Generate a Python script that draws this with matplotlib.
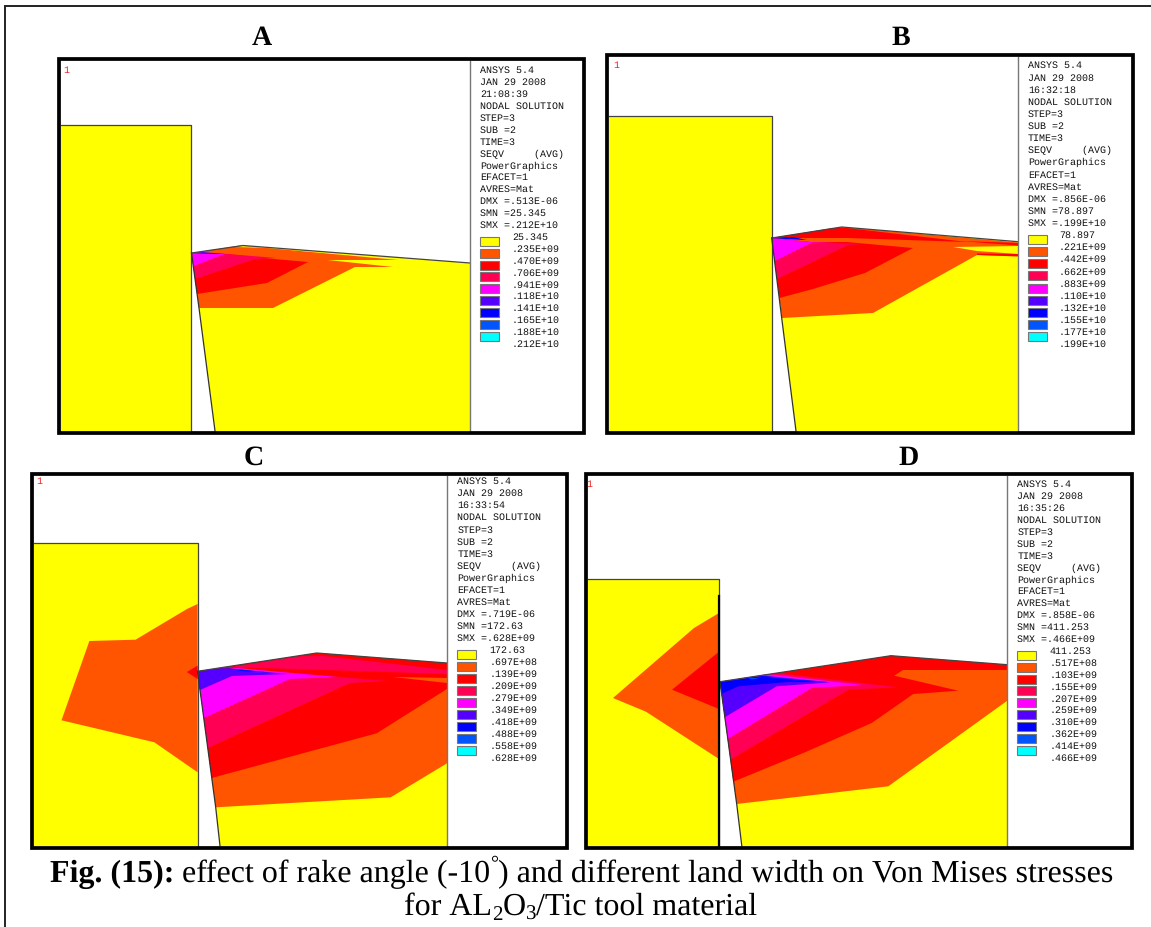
import matplotlib
matplotlib.use("Agg")
import matplotlib.pyplot as plt
from matplotlib.patches import Polygon, Rectangle

plt.rcParams["text.hinting"] = "no_hinting"
plt.rcParams["text.hinting_factor"] = 1

W, H = 1151, 928
YEL, ORG, RED, CRM, MAG, VIO, BLU, AZR, CYN = ("#FFFF00", "#FF5500", "#FF0000", "#FF0055",
    "#FF00FF", "#5500FF", "#0000FF", "#0055FF", "#00FFFF")
LEGEND_COLORS = [YEL, ORG, RED, CRM, MAG, VIO, BLU, AZR, CYN]

HEADER_FIXED = ["NODAL SOLUTION", "STEP=3", "SUB =2", "TIME=3", "SEQV     (AVG)",
                "PowerGraphics", "EFACET=1", "AVRES=Mat"]

# ---- panel A ----
A_TIME = "21:08:39"
A_STATS = ["DMX =.513E-06", "SMN =25.345", "SMX =.212E+10"]
A_LEVELS = ["25.345", ".235E+09", ".470E+09", ".706E+09", ".941E+09", ".118E+10", ".141E+10", ".165E+10", ".188E+10", ".212E+10"]
A_WORK = [(191.5, 254), (243, 246.5), (470, 264), (470, 432), (215, 432), (199, 309)]
A_REGIONS = [
    (ORG, [(191.5, 254), (240, 246.5), (398, 261), (328, 261), (393, 268), (355, 268), (273, 309), (199, 309)]),
    (YEL, [(243, 247), (270, 249), (235, 248)]),
    (RED, [(197, 295), (267, 284), (308, 263), (263, 259), (227, 255), (191.5, 254)]),
    (CRM, [(191.5, 254), (227, 255), (277, 259), (255, 260), (195, 280)]),
    (MAG, [(191.5, 254), (225, 255), (193.3, 267)]),
    (VIO, [(191.5, 254), (203, 253), (225, 255), (205, 255)]),
]

# ---- panel B ----
B_TIME = "16:32:18"
B_STATS = ["DMX =.856E-06", "SMN =78.897", "SMX =.199E+10"]
B_LEVELS = ["78.897", ".221E+09", ".442E+09", ".662E+09", ".883E+09", ".110E+10", ".132E+10", ".155E+10", ".177E+10", ".199E+10"]
B_WORK = [(771.7, 239), (841.7, 228), (1018, 242.7), (1018, 432), (796, 432), (781.7, 319)]
B_REGIONS = [
    (ORG, [(771.7, 239), (841.7, 228), (1018, 243.5), (1018, 257), (977, 256), (873, 314), (782, 319)]),
    (YEL, [(953, 248), (1018, 247), (1018, 255), (977, 252)]),
    (RED, [(977, 254.5), (1018, 255), (1018, 257.5), (977, 256)]),
    (RED, [(1018, 246.5), (960, 242), (1018, 244)]),
    (RED, [(771.7, 239), (833, 229), (847, 229), (967, 243), (847, 239)]),
    (RED, [(779.5, 299), (813, 290), (865, 274), (913, 249), (847, 243), (810, 243), (771.7, 239)]),
    (CRM, [(771.7, 239), (810, 243), (863, 245), (848, 246), (777, 280)]),
    (MAG, [(771.7, 239), (812, 243), (838, 243.5), (812, 243.5), (774.6, 262)]),
    (BLU, [(771.7, 239), (793, 238), (807, 241), (785, 240)]),
]

# ---- panel C ----
C_TIME = "16:33:54"
C_STATS = ["DMX =.719E-06", "SMN =172.63", "SMX =.628E+09"]
C_LEVELS = ["172.63", ".697E+08", ".139E+09", ".209E+09", ".279E+09", ".349E+09", ".418E+09", ".488E+09", ".558E+09", ".628E+09"]
C_WORK = [(197.5, 672.3), (316.7, 654), (447, 664), (447, 847), (220, 847), (215.7, 808.3)]
C_TOOL_REGIONS = [
    (ORG, [(197.6, 605), (187, 610), (135.6, 640.7), (89.4, 642), (61.5, 721.3), (154.4, 743.3), (197.6, 773.3)]),
    (RED, [(197.6, 666.7), (186.8, 673), (197.6, 680)]),
]
C_REGIONS = [
    (ORG, [(197.5, 672.3), (316.7, 654), (447, 664), (447, 764.3), (390.7, 798.3), (215.7, 808.3)]),
    (RED, [(211.7, 779), (376.7, 734.3), (447, 690), (447, 664), (316.7, 654), (197.5, 672.3)]),
    (ORG, [(393, 678), (447, 679), (447, 684)]),
    (CRM, [(233, 668), (298, 657.5), (323, 657), (447, 671), (447, 675)]),
    (CRM, [(197.5, 672.3), (233, 669), (340, 678), (387, 682), (350, 684), (207.8, 749)]),
    (MAG, [(197.5, 672.3), (237, 669), (337, 678), (290, 680), (203.8, 719)]),
    (VIO, [(197.5, 672.3), (220, 669), (233, 670), (288, 675), (232, 677), (200, 691)]),
    (BLU, [(223, 669), (235, 670), (270, 673.5), (240, 672)]),
]

# ---- panel D ----
D_TIME = "16:35:26"
D_STATS = ["DMX =.858E-06", "SMN =411.253", "SMX =.466E+09"]
D_LEVELS = ["411.253", ".517E+08", ".103E+09", ".155E+09", ".207E+09", ".259E+09", ".310E+09", ".362E+09", ".414E+09", ".466E+09"]
D_WORK = [(720, 682.7), (891, 656.7), (1007.3, 665.7), (1007.3, 847), (741.8, 847), (736.7, 805)]
D_TOOL_REGIONS = [
    (ORG, [(719, 614), (694, 629), (613, 699), (646, 712.7), (719, 760)]),
    (RED, [(719, 652.7), (672, 690.7), (719, 710)]),
]
D_REGIONS = [
    (ORG, [(720, 682.7), (891, 656.7), (1007.3, 665.7), (1007.3, 701.7), (888.3, 787.3), (736.7, 805)]),
    (RED, [(733.3, 782.7), (805, 753.3), (871.7, 724), (913.3, 695), (958.3, 691.7), (894.3, 676.7), (903, 671),
           (1007.3, 671), (1007.3, 665.7), (891, 656.7), (720, 682.7)]),
    (CRM, [(730.6, 760.7), (848.3, 690.7), (898.3, 688.3), (778.3, 674.3), (720, 682.7)]),
    (MAG, [(727.7, 740), (811.7, 689), (863.3, 686), (768, 675), (720, 682.7)]),
    (VIO, [(724.7, 718.3), (776.7, 687.3), (830, 683.3), (765, 676.7), (720, 682.7)]),
    (BLU, [(721.5, 695), (738.3, 687.3), (788, 683), (828, 683), (788, 680), (762, 677), (720, 682.7)]),
    (AZR, [(748, 679.5), (762, 678.5), (752, 680.5)]),
]

PANELS = [
    dict(letter="A", lx=262, ly=38, frame=(59, 60, 584, 434), plot_right=470, tool=(61, 126, 191, 432),
         tx=480, ty=70.7, dy=11.9, vx=512, sw_top=237.7, one=(66, 70.7), time=A_TIME, stats=A_STATS,
         levels=A_LEVELS, work=A_WORK, regions=A_REGIONS, tool_regions=[], inner=(61, 62, 583, 432)),
    dict(letter="B", lx=901, ly=38, frame=(607, 56, 1133, 434), plot_right=1018, tool=(609, 117, 771.7, 432),
         tx=1028, ty=65.7, dy=12.13, vx=1059, sw_top=236, one=(616, 65.7), time=B_TIME, stats=B_STATS,
         levels=B_LEVELS, work=B_WORK, regions=B_REGIONS, tool_regions=[], inner=(609, 58, 1132, 432)),
    dict(letter="C", lx=254, ly=458, frame=(32, 475, 567, 849), plot_right=447, tool=(34, 544, 197.6, 847),
         tx=457.5, ty=481.7, dy=12.04, vx=489.5, sw_top=650.7, one=(39, 481.7), time=C_TIME, stats=C_STATS,
         levels=C_LEVELS, work=C_WORK, regions=C_REGIONS, tool_regions=C_TOOL_REGIONS, inner=(34, 477, 565, 847)),
    dict(letter="D", lx=909, ly=458, frame=(586, 475, 1132, 849), plot_right=1007.3, tool=(588, 580, 719, 847),
         tx=1017.5, ty=484.7, dy=11.9, vx=1049.6, sw_top=651.7, one=(589.6, 484.7), time=D_TIME, stats=D_STATS,
         levels=D_LEVELS, work=D_WORK, regions=D_REGIONS, tool_regions=D_TOOL_REGIONS, inner=(588, 477, 1130, 847)),
]

CAPTION_1 = [("Fig. (15):", "bold", 1.0, 0), (" effect of rake angle (-10", "normal", 1.0, 0), ("°", "normal", 0.62, -13),
             (") and different land width on Von Mises stresses", "normal", 1.0, 0)]
CAPTION_2 = [("for AL", "normal", 1.0, 0), ("2", "normal", 0.65, 5), ("O", "normal", 1.0, 0), ("3", "normal", 0.65, 5),
             ("/Tic tool material", "normal", 1.0, 0)]

SERIF = "Liberation Serif"
MONO = "Liberation Mono"
LABEL_SIZE = 20.5
CAPTION_SIZE = 23.15
MONO_SIZE = 7.5

fig = plt.figure(figsize=(W / 100, H / 100), dpi=100, facecolor="white")
ax = fig.add_axes([0, 0, 1, 1])
ax.set_xlim(0, W)
ax.set_ylim(H, 0)
ax.axis("off")

# page border: left and top rules only
ax.plot([5, 5, W], [H, 6.5, 6.5], color="#222222", lw=1.4, solid_joinstyle="miter")


def rect(x0, y0, x1, y1, **kw):
    ax.add_patch(Rectangle((x0, y0), x1 - x0, y1 - y0, **kw))


for p in PANELS:
    ix0, iy0, ix1, iy1 = p["inner"]
    rect(ix0, iy0, ix1, iy1, fc="white", ec="none", zorder=1)

    # tool
    tx0, ty0, tx1, ty1 = p["tool"]
    rect(tx0, ty0, tx1, ty1, fc=YEL, ec="none", zorder=2)
    for col, pts in p["tool_regions"]:
        ax.add_patch(Polygon(pts, closed=True, fc=col, ec="none", zorder=3))
    ax.plot([tx0, tx1, tx1], [ty0, ty0, ty1], color="#444444", lw=0.9, zorder=6)

    # workpiece
    ax.add_patch(Polygon(p["work"], closed=True, fc=YEL, ec="none", zorder=2))
    for col, pts in p["regions"]:
        ax.add_patch(Polygon(pts, closed=True, fc=col, ec="none", zorder=3))
    wx = [pt[0] for pt in p["work"]]
    wy = [pt[1] for pt in p["work"]]
    ax.plot(wx[:3], wy[:3], color="#444444", lw=0.9, zorder=6)
    ax.plot([wx[0], wx[5], wx[4]], [wy[0], wy[5], wy[4]], color="#333333", lw=0.9, zorder=6)

    # divider between model and annotation strip
    ax.plot([p["plot_right"]] * 2, [iy0, iy1], color="#777777", lw=1.0, zorder=6)

    # frame
    fx0, fy0, fx1, fy1 = p["frame"]
    rect(fx0, fy0, fx1, fy1, fc="none", ec="black", lw=2.7, zorder=8, joinstyle="miter")

    # annotation text
    header = ["ANSYS 5.4", "JAN 29 2008", p["time"]] + HEADER_FIXED + p["stats"]
    for i, line in enumerate(header):
        ax.text(p["tx"], p["ty"] + i * p["dy"], line, family=MONO, fontsize=MONO_SIZE, color="#111111",
                va="center", ha="left", zorder=7)
    first = p["ty"] + len(header) * p["dy"]
    for i, line in enumerate(p["levels"]):
        ax.text(p["vx"], first + i * p["dy"], line, family=MONO, fontsize=MONO_SIZE, color="#111111",
                va="center", ha="left", zorder=7)
    for i, col in enumerate(LEGEND_COLORS):
        top = p["sw_top"] + i * p["dy"]
        rect(p["tx"], top, p["tx"] + 19, top + 9, fc=col, ec="#777777", lw=0.8, zorder=7)

    ax.text(p["one"][0], p["one"][1], "1", family=MONO, fontsize=MONO_SIZE, color="#EE2222",
            va="center", ha="center", zorder=7)
    ax.text(p["lx"], p["ly"], p["letter"], family=SERIF, fontsize=LABEL_SIZE, fontweight="bold",
            va="center", ha="center", color="black", zorder=7)

# heavy tool edge seen in panel D
ax.plot([719, 719], [597, 847], color="black", lw=1.6, zorder=6)


def runs(parts, cx, baseline):
    rend = fig.canvas.get_renderer()
    objs = []
    total = 0
    for s, w, scale, dy in parts:
        t = ax.text(0, baseline + dy, s, family=SERIF, fontsize=CAPTION_SIZE * scale, fontweight=w,
                    va="baseline", ha="left", color="black", zorder=9)
        t.set_text(s.replace(" ", "\u00a0"))
        wid = t.get_window_extent(rend).width
        objs.append((t, wid))
        total += wid
    x = cx - total / 2
    for t, wid in objs:
        t.set_x(x)
        x += wid


runs(CAPTION_1, 581.5, 882)
runs(CAPTION_2, 581, 915)

fig.savefig("out.png", dpi=100, facecolor="white")
